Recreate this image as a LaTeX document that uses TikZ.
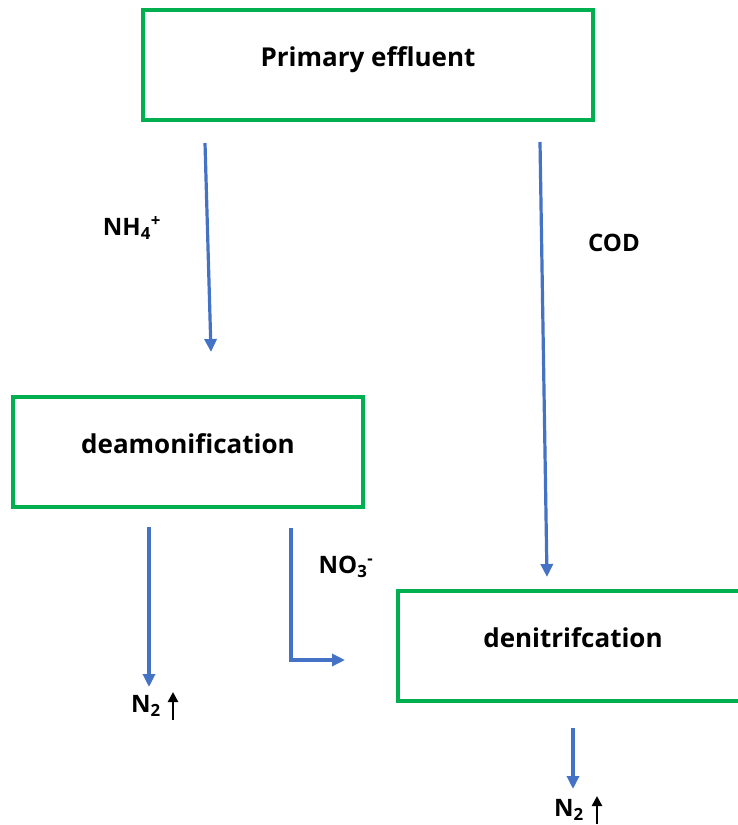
\documentclass[tikz,border=0pt]{standalone}
\usepackage{fontspec}
\setmainfont{Open Sans}
\usetikzlibrary{arrows.meta}

\definecolor{boxgreen}{RGB}{0,176,80}
\definecolor{flowblue}{RGB}{68,114,196}

\tikzstyle{box}=[draw=boxgreen,line width=3.5pt,minimum width=350pt,minimum height=110pt,text height=20pt,text depth=17pt,font=\fontsize{26}{30}\selectfont\bfseries]
\tikzstyle{label}=[font=\fontsize{24}{28}\selectfont\bfseries,inner sep=0pt]
\tikzstyle{flow}=[draw=flowblue,line width=3.2pt,-{Triangle[length=13pt,width=12pt]}]
\tikzstyle{gas}=[draw=black,line width=2.6pt,-{Triangle[length=10pt,width=10pt]}]

\begin{document}
\begin{tikzpicture}[x=1pt,y=-1pt]
\useasboundingbox (0,0) rectangle (737,825);

\node[box,minimum width=450pt] (primary) at (368,65) {Primary effluent};
\node[box] (deamon) at (188,452) {deamonification};
\node[box] (denitr) at (573,646) {denitrifcation};

\coordinate (nh4top) at (205,143);
\coordinate (nh4end) at (211,352);
\coordinate (codtop) at (540,142);
\coordinate (codend) at (547,577);
\coordinate (ntwotop) at (149,527);
\coordinate (ntwoend) at (149,687);
\coordinate (nothreetop) at (291,528);
\coordinate (nothreebend) at (291,660);
\coordinate (nothreeend) at (345,660);
\coordinate (outtop) at (573,728);
\coordinate (outend) at (573,789);

\path[flow] (nh4top) -- (nh4end);
\path[flow] (codtop) -- (codend);
\path[flow] (ntwotop) -- (ntwoend);
\path[flow] (nothreetop) -- (nothreebend) -- (nothreeend);
\path[flow] (outtop) -- (outend);

\node[label] (nh4) at (132,228) {NH\textsubscript{4}\textsuperscript{+}};
\node[label] (cod) at (614,243) {COD};
\node[label] (nothree) at (346,567) {NO\textsubscript{3}\textsuperscript{-}};

\node[label] (ntwoa) at (146,706) {N\textsubscript{2}};
\coordinate (gasabot) at (173,720);
\coordinate (gasatop) at (173,692);
\path[gas] (gasabot) -- (gasatop);

\node[label] (ntwob) at (569,810) {N\textsubscript{2}};
\coordinate (gasbbot) at (597,824);
\coordinate (gasbtop) at (597,796);
\path[gas] (gasbbot) -- (gasbtop);

\end{tikzpicture}
\end{document}
